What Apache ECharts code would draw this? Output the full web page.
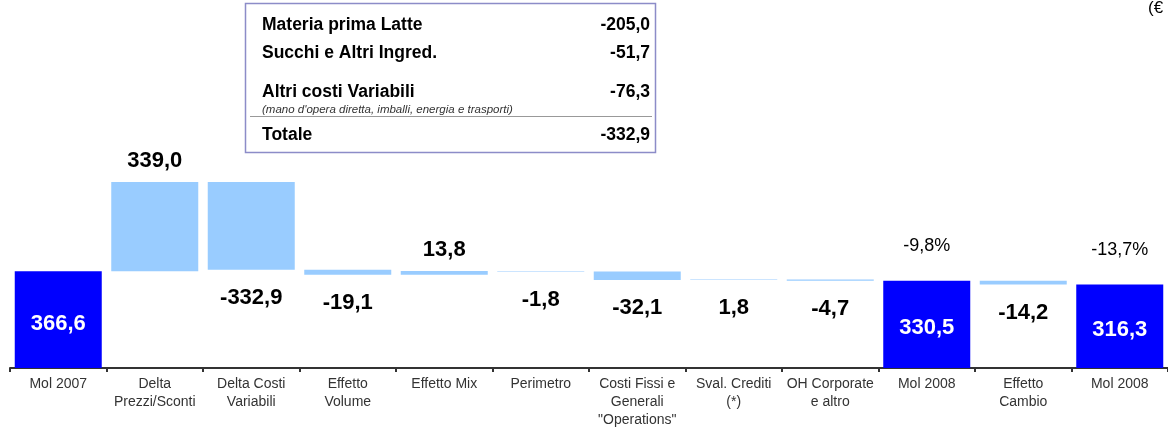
<!DOCTYPE html>
<html>
<head>
<meta charset="utf-8">
<script src="https://cdn.jsdelivr.net/npm/echarts@6/dist/echarts.min.js"></script>
<style>
  html, body { margin: 0; padding: 0; background: #fff; }
  #chart { width: 1168px; height: 429px; }
</style>
</head>
<body>
<div id="chart"></div>
<script>
// categorie e valori (mln euro)
const categories = ['Mol 2007', 'Delta\nPrezzi/Sconti', 'Delta Costi\nVariabili', 'Effetto\nVolume',
  'Effetto Mix', 'Perimetro', 'Costi Fissi e\nGenerali\n"Operations"', 'Sval. Crediti\n(*)',
  'OH Corporate\ne altro', 'Mol 2008', 'Effetto\nCambio', 'Mol 2008'];
const values = [366.6, 339.0, -332.9, -19.1, 13.8, -1.8, -32.1, 1.8, -4.7, 330.5, -14.2, 316.3];
const isTotal = [true, false, false, false, false, false, false, false, false, true, false, true];
const pctLabels = ['', '', '', '', '', '', '', '', '', '-9,8%', '', '-13,7%'];

// riquadro dettaglio costi variabili
const tableLabels = ['Materia prima Latte', 'Succhi e Altri Ingred.', 'Altri costi Variabili'];
const tableValues = ['-205,0', '-51,7', '-76,3'];
const tableNote = "(mano d'opera diretta, imballi, energia e trasporti)";
const tableTotal = ['Totale', '-332,9'];

const fmt = v => v.toFixed(1).replace('.', ',');

const baseData = [];
const barData = [];
let run = 0;
values.forEach((v, i) => {
  if (isTotal[i]) {
    baseData.push(0);
    barData.push({
      value: v,
      itemStyle: {color: '#0000FF'},
      label: {position: 'inside', offset: [0, 4], color: '#fff'}
    });
    run = v;
  } else {
    baseData.push(Math.min(run, run + v));
    const below = v < 0 || Math.abs(v) < 5;
    barData.push({
      value: Math.abs(v),
      itemStyle: {color: '#99CCFF'},
      label: below ? {position: 'bottom', distance: 17} : {position: 'top', distance: 10}
    });
    run = run + v;
  }
});

const chart = echarts.init(document.getElementById('chart'));

const txtFont = 'Liberation Sans, Arial, sans-serif';
const rowY = [25, 53, 92];
const graphics = [
  {type: 'rect', shape: {x: 245.5, y: 3.5, width: 410, height: 149},
    style: {fill: '#fff', stroke: '#8C8CC8', lineWidth: 1.5}},
  {type: 'line', shape: {x1: 250, y1: 116.5, x2: 652, y2: 116.5},
    style: {stroke: '#999', lineWidth: 1}},
  {type: 'text', x: 262, y: 110, style: {text: tableNote, font: 'italic 11.5px ' + txtFont,
    fill: '#333', verticalAlign: 'middle'}},
  {type: 'text', x: 262, y: 135, style: {text: tableTotal[0], font: 'bold 17.5px ' + txtFont,
    fill: '#000', verticalAlign: 'middle'}},
  {type: 'text', x: 650, y: 135, style: {text: tableTotal[1], font: 'bold 17.5px ' + txtFont,
    fill: '#000', verticalAlign: 'middle', align: 'right'}},
  {type: 'text', x: 1148, y: 0, style: {text: '(€ mln)', font: '17px ' + txtFont, fill: '#000'}}
];
tableLabels.forEach((t, i) => {
  graphics.push({type: 'text', x: 262, y: rowY[i], style: {text: t, font: 'bold 17.5px ' + txtFont,
    fill: '#000', verticalAlign: 'middle'}});
  graphics.push({type: 'text', x: 650, y: rowY[i], style: {text: tableValues[i], font: 'bold 17.5px ' + txtFont,
    fill: '#000', verticalAlign: 'middle', align: 'right'}});
});

const option = {
  animation: false,
  grid: {left: 10, width: 1160, top: 157, bottom: 61, containLabel: false},
  xAxis: {
    type: 'category',
    data: categories,
    axisLine: {lineStyle: {color: '#333', width: 2}},
    axisTick: {show: true, length: 4, lineStyle: {color: '#333', width: 2}},
    axisLabel: {interval: 0, color: '#333', fontSize: 14, fontFamily: txtFont, lineHeight: 18, margin: 7}
  },
  yAxis: {type: 'value', min: 0, max: 800, show: false, splitLine: {show: false}},
  series: [
    {
      name: 'base', type: 'bar', stack: 'w', barWidth: 87,
      itemStyle: {color: 'transparent'}, silent: true,
      data: baseData
    },
    {
      name: 'valore', type: 'bar', stack: 'w', barWidth: 87,
      label: {
        show: true, fontSize: 22, fontWeight: 'bold', color: '#000', fontFamily: txtFont,
        formatter: p => fmt(values[p.dataIndex])
      },
      data: barData
    },
    {
      name: 'pct', type: 'bar', stack: 'w', barWidth: 87,
      itemStyle: {color: 'transparent'},
      label: {
        show: true, position: 'top', distance: 26, fontSize: 18, color: '#000', fontFamily: txtFont,
        formatter: p => pctLabels[p.dataIndex]
      },
      data: values.map(() => 0)
    }
  ],
  graphic: graphics
};

chart.setOption(option);
</script>
</body>
</html>
